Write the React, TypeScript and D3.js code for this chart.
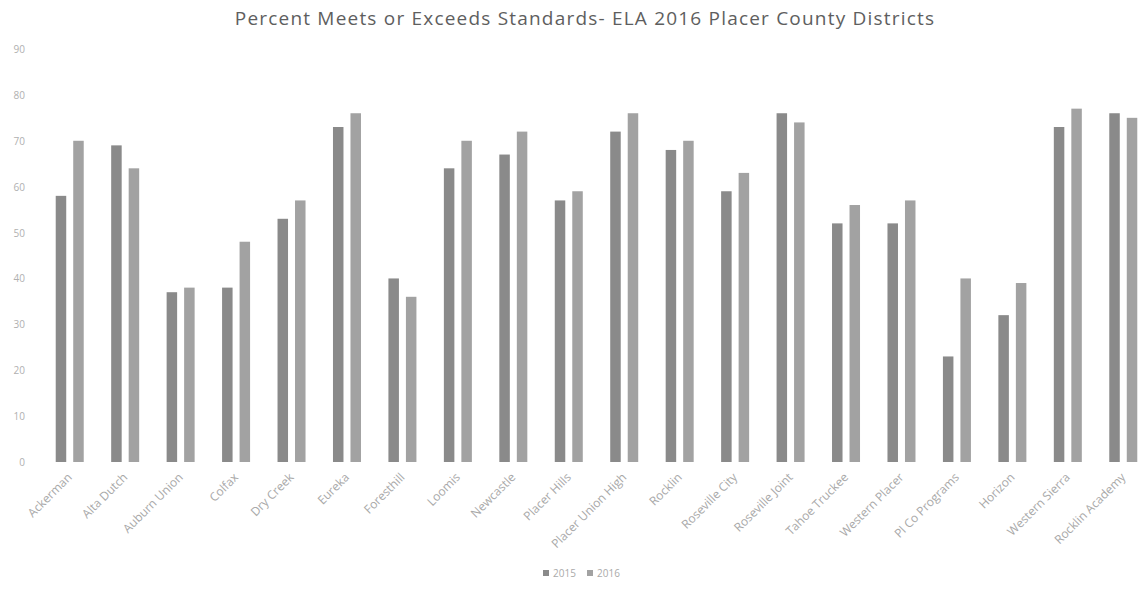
import React from "react";
import * as d3 from "d3";

const districts = [
  "Ackerman",
  "Alta Dutch",
  "Auburn Union",
  "Colfax",
  "Dry Creek",
  "Eureka",
  "Foresthill",
  "Loomis",
  "Newcastle",
  "Placer Hills",
  "Placer Union High",
  "Rocklin",
  "Roseville City",
  "Roseville Joint",
  "Tahoe Truckee",
  "Western Placer",
  "Pl Co Programs",
  "Horizon",
  "Western Sierra",
  "Rocklin Academy",
];

const values2015 = [58, 69, 37, 38, 53, 73, 40, 64, 67, 57, 72, 68, 59, 76, 52, 52, 23, 32, 73, 76];
const values2016 = [70, 64, 38, 48, 57, 76, 36, 70, 72, 59, 76, 70, 63, 74, 56, 57, 40, 39, 77, 75];

const seriesNames = ["2015", "2016"];
const seriesColors = ["#8a8a8a", "#a2a2a2"];
const yTicks = [0, 10, 20, 30, 40, 50, 60, 70, 80, 90];

const W = 1144;
const H = 600;
const plot = { left: 42, right: 1151, top: 49, bottom: 462 };

export default function App() {
  const x0 = d3
    .scaleBand<string>()
    .domain(districts)
    .range([plot.left, plot.right])
    .paddingInner(0.495)
    .paddingOuter(0.2475);
  const x1 = d3
    .scaleBand<string>()
    .domain(seriesNames)
    .range([0, x0.bandwidth()])
    .paddingInner(0.4);
  const y = d3.scaleLinear().domain([0, 90]).range([plot.bottom, plot.top]);

  const series = [values2015, values2016];
  const font = "'Open Sans', 'DejaVu Sans', sans-serif";

  return (
    <svg
      width={W}
      height={H}
      style={{ position: "absolute", left: 0, top: 0, background: "#fff" }}
      fontFamily={font}
    >
      <text
        x={585}
        y={25}
        textAnchor="middle"
        fontSize={19}
        letterSpacing={1.2}
        fill="#5e5e5e"
      >
        Percent Meets or Exceeds Standards- ELA 2016 Placer County Districts
      </text>

      {yTicks.map((t) => (
        <text key={t} x={25} y={y(t) + 4} textAnchor="end" fontSize={10} fill="#b0b0b0">
          {t}
        </text>
      ))}

      {districts.map((d, i) => (
        <g key={d} transform={`translate(${x0(d)},0)`}>
          {series.map((vals, s) => (
            <rect
              key={s}
              x={x1(seriesNames[s])}
              y={y(vals[i])}
              width={x1.bandwidth()}
              height={y(0) - y(vals[i])}
              fill={seriesColors[s]}
            />
          ))}
        </g>
      ))}

      {districts.map((d) => {
        const cx = (x0(d) as number) + x0.bandwidth() / 2 + 3;
        const cy = 478;
        return (
          <text
            key={d}
            x={cx}
            y={cy}
            textAnchor="end"
            fontSize={12}
            fill="#a8a8a8"
            transform={`rotate(-45 ${cx} ${cy})`}
          >
            {d}
          </text>
        );
      })}

      <g transform="translate(543,577)">
        {seriesNames.map((n, i) => (
          <g key={n} transform={`translate(${i * 44},0)`}>
            <rect x={0} y={-7} width={6} height={6} fill={seriesColors[i]} />
            <text x={10} y={0} fontSize={10} fill="#aaaaaa">
              {n}
            </text>
          </g>
        ))}
      </g>
    </svg>
  );
}
